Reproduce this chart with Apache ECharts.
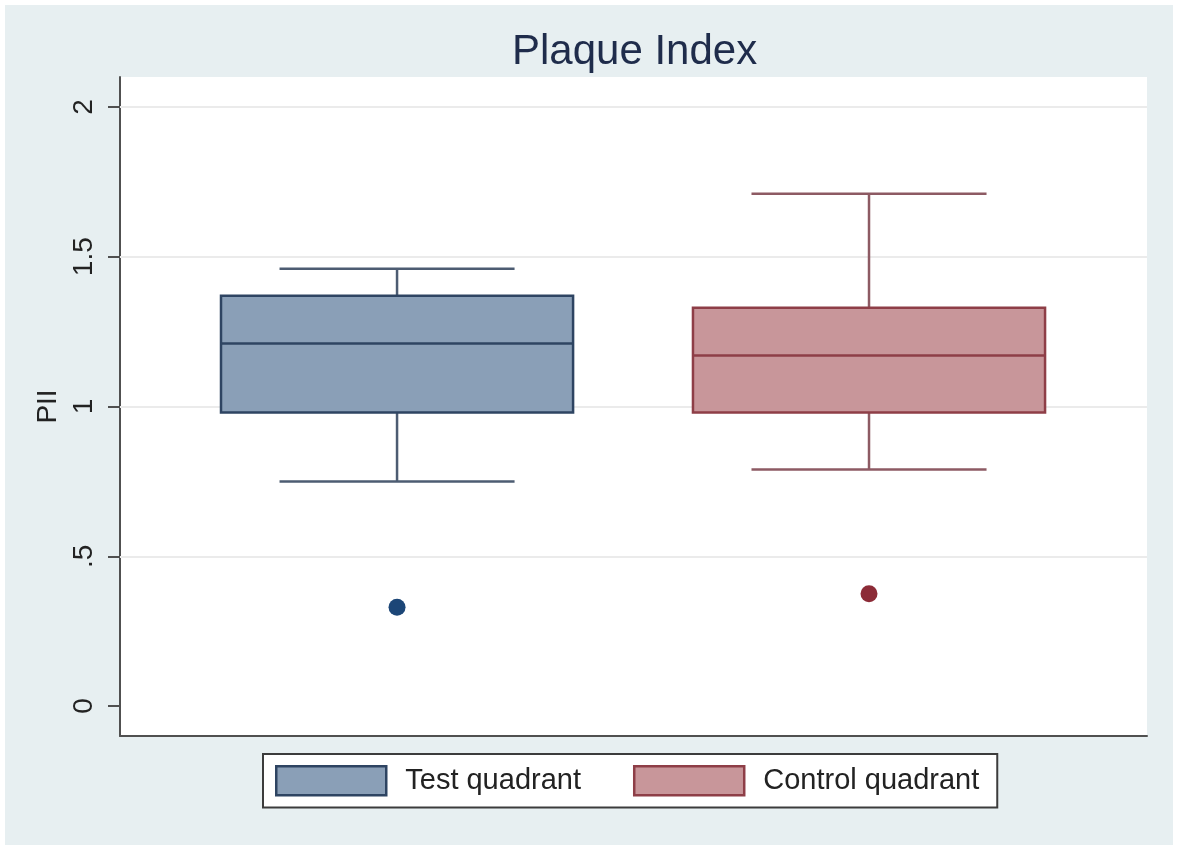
<!DOCTYPE html>
<html>
<head>
<meta charset="utf-8">
<title>Plaque Index</title>
<script src="https://cdn.jsdelivr.net/npm/echarts@6/dist/echarts.min.js"></script>
<style>
  html, body { margin: 0; padding: 0; background: #fff; }
  #bg { position: absolute; left: 5px; top: 5px; width: 1168px; height: 840px; background: #e7eff1; }
  #main { position: absolute; left: 0; top: 0; width: 1180px; height: 852px; }
</style>
</head>
<body>
<div id="bg"></div>
<div id="main"></div>
<script>
// groups and box stats: [lower whisker, q1, median, q3, upper whisker]
var groups = ['Test quadrant', 'Control quadrant'];
var testBox = [0.75, 0.98, 1.21, 1.37, 1.46];
var controlBox = [0.79, 0.98, 1.17, 1.33, 1.71];
var testOutliers = [0.33];
var controlOutliers = [0.375];

var yTicks = [0, 0.5, 1, 1.5, 2];
var yTickLabels = ['0', '.5', '1', '1.5', '2'];

var font = '"Liberation Sans", Arial, sans-serif';

// box + whiskers drawn through the axes
function boxRenderer(fill, stroke, whisker) {
  return function (params, api) {
    var x = api.value(0);
    var lo = api.coord([x, api.value(1)]);
    var q1 = api.coord([x, api.value(2)]);
    var med = api.coord([x, api.value(3)]);
    var q3 = api.coord([x, api.value(4)]);
    var hi = api.coord([x, api.value(5)]);
    var unit = api.size([1, 0])[0];
    var bw = unit * 0.746, cw = unit * 0.498;
    var cx = q1[0];
    var lw = { stroke: whisker, lineWidth: 2.5 };
    return {
      type: 'group',
      children: [
        { type: 'line', shape: { x1: cx, y1: q3[1], x2: cx, y2: hi[1] }, style: lw },
        { type: 'line', shape: { x1: cx, y1: q1[1], x2: cx, y2: lo[1] }, style: lw },
        { type: 'line', shape: { x1: cx - cw / 2, y1: hi[1], x2: cx + cw / 2, y2: hi[1] }, style: lw },
        { type: 'line', shape: { x1: cx - cw / 2, y1: lo[1], x2: cx + cw / 2, y2: lo[1] }, style: lw },
        { type: 'rect', shape: { x: cx - bw / 2, y: q3[1], width: bw, height: q1[1] - q3[1] },
          style: { fill: fill, stroke: stroke, lineWidth: 2.5 } },
        { type: 'line', shape: { x1: cx - bw / 2, y1: med[1], x2: cx + bw / 2, y2: med[1] },
          style: { stroke: stroke, lineWidth: 2.5 } }
      ]
    };
  };
}

var chart = echarts.init(document.getElementById('main'));

chart.setOption({
  backgroundColor: 'transparent',
  animation: false,
  title: {
    text: 'Plaque Index',
    left: 507,
    top: 26,
    textStyle: { fontFamily: font, fontSize: 42, fontWeight: 'normal', color: '#1f2c4b' }
  },
  grid: {
    left: 120, top: 77, width: 1027, height: 659,
    show: true, backgroundColor: '#ffffff', borderWidth: 0
  },
  xAxis: {
    type: 'value',
    min: -0.587, max: 1.589,
    axisLine: { show: true, onZero: false, lineStyle: { color: '#505050', width: 2 } },
    axisTick: { show: false },
    axisLabel: { show: false },
    splitLine: { show: false }
  },
  yAxis: {
    type: 'value',
    min: -0.1, max: 2.1,
    name: 'PII',
    nameLocation: 'middle',
    nameRotate: 90,
    nameGap: 55,
    nameTextStyle: { fontFamily: font, fontSize: 28, color: '#222' },
    axisLine: { show: true, onZero: false, lineStyle: { color: '#505050', width: 2 } },
    axisTick: { show: true, customValues: yTicks, length: 12, lineStyle: { color: '#505050', width: 2 } },
    axisLabel: {
      customValues: yTicks,
      rotate: 90,
      margin: 22,
      fontFamily: font, fontSize: 28, color: '#222',
      formatter: function (v) {
        var i = yTicks.indexOf(v);
        return i >= 0 ? yTickLabels[i] : '';
      }
    },
    splitLine: { show: false }
  },
  legend: {
    left: 263, top: 754,
    orient: 'horizontal',
    padding: [11, 18, 11, 12],
    itemWidth: 110, itemHeight: 29, itemGap: 52,
    backgroundColor: '#ffffff',
    borderColor: '#3c3c3c', borderWidth: 2, borderRadius: 0,
    selectedMode: false,
    textStyle: { fontFamily: font, fontSize: 29, color: '#222', padding: [0, 0, 0, 14] },
    data: [
      { name: groups[0], icon: 'rect', itemStyle: { color: '#8a9fb7', borderColor: '#2e4462', borderWidth: 2.5 } },
      { name: groups[1], icon: 'rect', itemStyle: { color: '#c8969a', borderColor: '#8e3e47', borderWidth: 2.5 } }
    ]
  },
  series: [
    {
      name: groups[0],
      type: 'custom',
      itemStyle: { color: '#8a9fb7' },
      renderItem: boxRenderer('#8a9fb7', '#2e4462', '#4d5c72'),
      encode: { x: 0, y: [1, 2, 3, 4, 5] },
      data: [[0].concat(testBox)],
      z: 3
    },
    {
      name: groups[1],
      type: 'custom',
      itemStyle: { color: '#c8969a' },
      renderItem: boxRenderer('#c8969a', '#8e3e47', '#8d5a63'),
      encode: { x: 0, y: [1, 2, 3, 4, 5] },
      data: [[1].concat(controlBox)],
      z: 3
    },
    {
      name: 'test outliers',
      type: 'scatter',
      symbolSize: 17,
      itemStyle: { color: '#1c4677', opacity: 1 },
      data: testOutliers.map(function (v) { return [0, v]; }),
      markLine: {
        silent: true,
        z: 1,
        symbol: 'none',
        label: { show: false },
        lineStyle: { color: '#ebebeb', width: 2, type: 'solid' },
        data: yTicks.filter(function (v) { return v > 0; }).map(function (v) { return { yAxis: v }; })
      },
      z: 2
    },
    {
      name: 'control outliers',
      type: 'scatter',
      symbolSize: 17,
      itemStyle: { color: '#8c2b37', opacity: 1 },
      data: controlOutliers.map(function (v) { return [1, v]; }),
      z: 2
    }
  ]
});
</script>
</body>
</html>
